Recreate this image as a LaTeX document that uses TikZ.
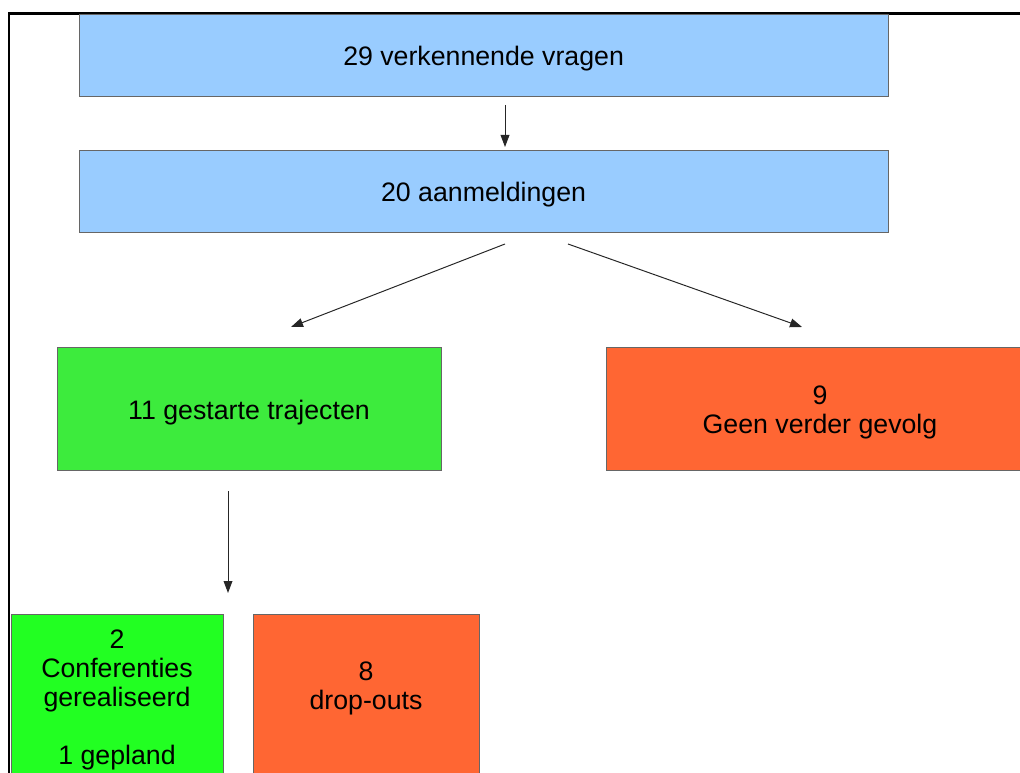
\documentclass[tikz,border=0pt]{standalone}
\usepackage{fontspec}
\setmainfont{Liberation Sans}
\usetikzlibrary{arrows.meta}
\definecolor{lichtblauw}{HTML}{99CCFF}
\definecolor{groen}{HTML}{3DEB3D}
\definecolor{felgroen}{HTML}{22FF22}
\definecolor{oranje}{HTML}{FF6633}
\tikzset{
	blok/.style={draw=black!60, line width=0.6pt, rectangle, align=center, inner sep=0pt, font=\fontsize{19}{20.6}\selectfont},
	pijl/.style={draw=black!85, line width=0.7pt, -{Triangle[length=0.3cm,width=0.22cm]}}
}
\begin{document}
\begin{tikzpicture}
		\clip (0,0) rectangle (25.5,-19.325);
		\draw[line width=2pt] (0.225,-19.5)--(0.225,-0.33)--(25.6,-0.33);
		\node[blok, fill=lichtblauw, minimum width=20.225cm, minimum height=2.05cm, text height=19.5pt] (V) at (12.09,-1.375) {29 verkennende vragen};
		\node[blok, fill=lichtblauw, minimum width=20.225cm, minimum height=2.05cm, text height=19.5pt] (A) at (12.09,-4.775) {20 aanmeldingen};
		\node[blok, fill=groen, minimum width=9.6cm, minimum height=3.075cm, text height=19.5pt] (T) at (6.225,-10.2125) {11 gestarte trajecten};
		\node[blok, fill=oranje, minimum width=10.7cm, minimum height=3.075cm, text height=40pt] (G) at (20.5,-10.2125) {9\\Geen verder gevolg};
		\node[blok, fill=felgroen, minimum width=5.3cm, minimum height=4.1cm, text height=101.5pt] (C) at (2.925,-17.4) {2\\Conferenties\\gerealiseerd\\[20.6pt]1 gepland};
		\node[blok, fill=oranje, minimum width=5.65cm, minimum height=4.1cm, text height=60.5pt] (D) at (9.15,-17.4) {8\\drop-outs\\~};
		\coordinate (p1) at (12.625,-2.625);
		\coordinate (q1) at (12.625,-3.675);
		\coordinate (p2) at (12.625,-6.1);
		\coordinate (q2) at (7.275,-8.175);
		\coordinate (p3) at (14.2,-6.1);
		\coordinate (q3) at (20.05,-8.175);
		\coordinate (p4) at (5.7,-12.275);
		\coordinate (q4) at (5.7,-14.825);
		\draw[pijl] (p1)--(q1);
		\draw[pijl] (p2)--(q2);
		\draw[pijl] (p3)--(q3);
		\draw[pijl] (p4)--(q4);
	\end{tikzpicture}
\end{document}
